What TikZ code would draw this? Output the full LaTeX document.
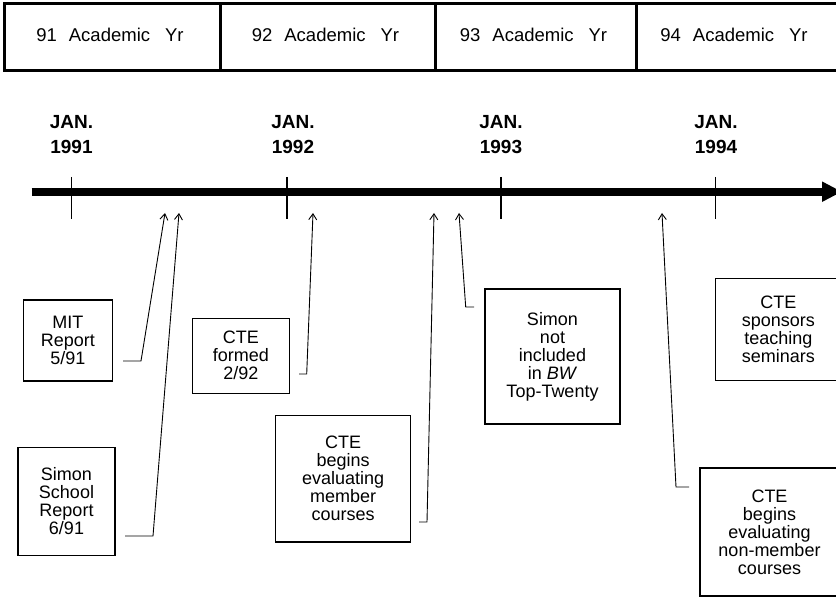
\documentclass[tikz,border=0pt]{standalone}
\usepackage{fontspec}
\setmainfont{Liberation Sans}
\usetikzlibrary{arrows.meta}
\begin{document}
\begin{tikzpicture}[x=1pt,y=-1pt,
  evbox/.style={draw,line width=1.1pt,inner sep=0pt,align=center,font=\fontsize{18}{18}\selectfont},
  conn/.style={line width=0.9pt,-{Straight Barb[length=6pt,width=8pt]}},
  tickline/.style={line width=1.3pt},
  yr/.style={inner sep=0pt,anchor=base,font=\fontsize{18.5}{20}\selectfont},
  jan/.style={inner sep=0pt,anchor=north,font=\bfseries\fontsize{19}{25}\selectfont,align=center},
  barline/.style={line width=3pt}]
\useasboundingbox (0,0) rectangle (836,599);
\clip (0,0) rectangle (836,599);

% academic year bar
\draw[barline] (860,3.3) -- (4.7,3.3) -- (4.7,71) -- (860,71);
\draw[barline] (220,3.3) -- (220,71);
\draw[barline] (435,3.3) -- (435,71);
\draw[barline] (636,3.3) -- (636,71);
\node[yr] (y91) at (110,41.7) {91\hspace{12pt}Academic\hspace{15pt}Yr};
\node[yr] (y92) at (325.5,41.7) {92\hspace{12pt}Academic\hspace{15pt}Yr};
\node[yr] (y93) at (533.5,41.7) {93\hspace{12pt}Academic\hspace{15pt}Yr};
\node[yr] (y94) at (734,41.7) {94\hspace{12pt}Academic\hspace{15pt}Yr};

% JAN labels
\node[jan] (j91) at (71.5,115) {JAN.\\1991};
\node[jan] (j92) at (293,115) {JAN.\\1992};
\node[jan] (j93) at (501,115) {JAN.\\1993};
\node[jan] (j94) at (716,115) {JAN.\\1994};

% timeline
\coordinate (tlstart) at (31.7,191.7);
\coordinate (tlend) at (842,191.7);
\draw[line width=8pt,-{Triangle[length=20pt,width=19pt]}] (tlstart) -- (tlend);
\foreach \x in {71.7,287,501,715.7}{
  \draw[tickline] (\x,177) -- (\x,219);
}

% event boxes
\node[evbox,minimum width=89pt,minimum height=81pt] (mit) at (67.8,340.5) {MIT\\Report\\5/91};
\node[evbox,minimum width=97pt,minimum height=107.6pt] (simon) at (66.5,501.5) {Simon\\School\\Report\\6/91};
\node[evbox,minimum width=97pt,minimum height=75.3pt] (formed) at (240.8,355.7) {CTE\\formed\\2/92};
\node[evbox,minimum width=135pt,minimum height=126.3pt] (member) at (343.2,478.8) {CTE\\begins\\evaluating\\member\\courses};
\node[evbox,minimum width=135pt,minimum height=135pt] (bw) at (552.5,356.5) {Simon\\not\\included\\in \textit{BW}\\Top-Twenty};
\node[evbox,minimum width=125pt,minimum height=102.4pt] (sponsors) at (778.3,329.5) {CTE\\sponsors\\teaching\\seminars};
\node[evbox,minimum width=139pt,minimum height=128pt] (nonmember) at (769.5,532) {CTE\\begins\\evaluating\\non-member\\courses};

% connectors
\coordinate (s1) at (123,361);   \coordinate (b1) at (141,361);   \coordinate (t1) at (165,213);
\coordinate (s2) at (125,536);   \coordinate (b2) at (153,536);   \coordinate (t2) at (179,213);
\coordinate (s3) at (299,374);   \coordinate (b3) at (306.7,374); \coordinate (t3) at (313,213);
\coordinate (s4) at (419,522);   \coordinate (b4) at (427,522);   \coordinate (t4) at (434,213);
\coordinate (s5) at (474,307);   \coordinate (b5) at (465.7,307); \coordinate (t5) at (459,213);
\coordinate (s6) at (689,487);   \coordinate (b6) at (676,487);   \coordinate (t6) at (662,213);
\foreach \i in {1,...,6}{
  \draw[conn] (s\i) -- (b\i) -- (t\i);
}
\end{tikzpicture}
\end{document}
